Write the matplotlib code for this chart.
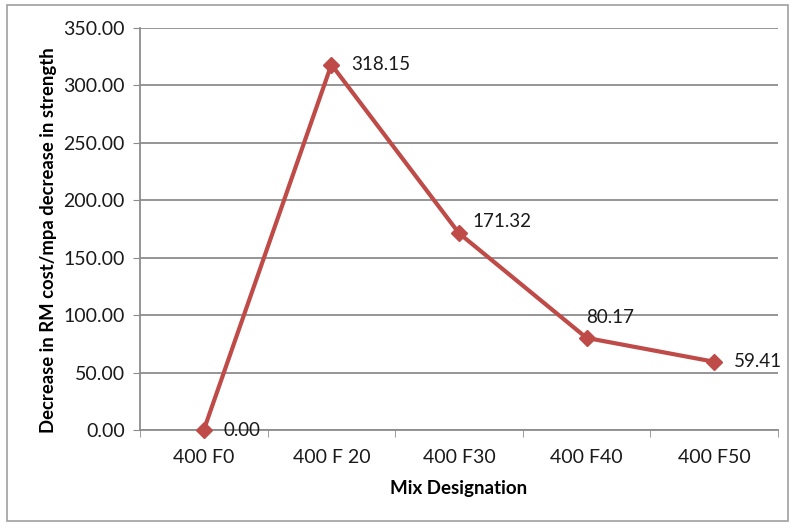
import matplotlib.pyplot as plt
from matplotlib.patches import Rectangle
from matplotlib import ticker

plt.rcParams['font.family'] = ['Lato', 'DejaVu Sans']

mixes = ["400 F0", "400 F 20", "400 F30", "400 F40", "400 F50"]
cost_drop = [0.00, 318.15, 171.32, 80.17, 59.41]
# label offsets in points (dx, dy)
label_pos = [(14, 0), (14, 0), (10, 8.5), (0, 15), (14, 0)]

red = '#BE4B48'
grid_col = '#8C8C8C'

fig = plt.figure(figsize=(7.9, 5.23), dpi=100)
ax = fig.add_axes([140/790, 1 - 430/523, 638/790, 402/523])

x = list(range(len(mixes)))
ax.plot(x, cost_drop, color=red, lw=3, marker='D', ms=8.5, zorder=3, clip_on=False)

for xi, v, (dx, dy) in zip(x, cost_drop, label_pos):
    ax.annotate(f"{v:.2f}", (xi, v), xytext=(dx, dy), textcoords='offset points',
                ha='left', va='center', fontsize=13.5, color='#1a1a1a')

ax.set_xlim(-0.5, len(mixes) - 0.5)
ax.set_ylim(0, 350)
ax.yaxis.set_major_locator(ticker.MultipleLocator(50))
ax.yaxis.set_major_formatter(ticker.FormatStrFormatter('%.2f'))
ax.set_xticks(x)
ax.set_xticklabels(mixes)
ax.set_xticks([i - 0.5 for i in range(len(mixes) + 1)], minor=True)

ax.grid(axis='y', color=grid_col, lw=1.3)
ax.set_axisbelow(True)
for s in ['top', 'right']:
    ax.spines[s].set_visible(False)
ax.spines['left'].set_color(grid_col)
ax.spines['bottom'].set_color(grid_col)
ax.spines['left'].set_linewidth(1.3)
ax.spines['bottom'].set_linewidth(1.3)

ax.tick_params(axis='y', length=5, color=grid_col, labelsize=14, pad=6, labelcolor='#1a1a1a')
ax.tick_params(axis='x', which='major', length=0, labelsize=14, pad=14, labelcolor='#1a1a1a')
ax.tick_params(axis='x', which='minor', length=5, color=grid_col)

ax.set_xlabel("Mix Designation", fontsize=13.5, fontweight='bold', labelpad=10)
ax.set_ylabel("Decrease in RM cost/mpa decrease in strength", fontsize=13.3, fontweight='bold')
ax.yaxis.set_label_coords(-0.130, 0.473)

# outer chart border
fig.patches.append(Rectangle((7/790, 2/523), 781/790, 516/523, transform=fig.transFigure,
                             fill=False, edgecolor='#A0A0A0', lw=1.2))

fig.savefig("out.png", dpi=100)
